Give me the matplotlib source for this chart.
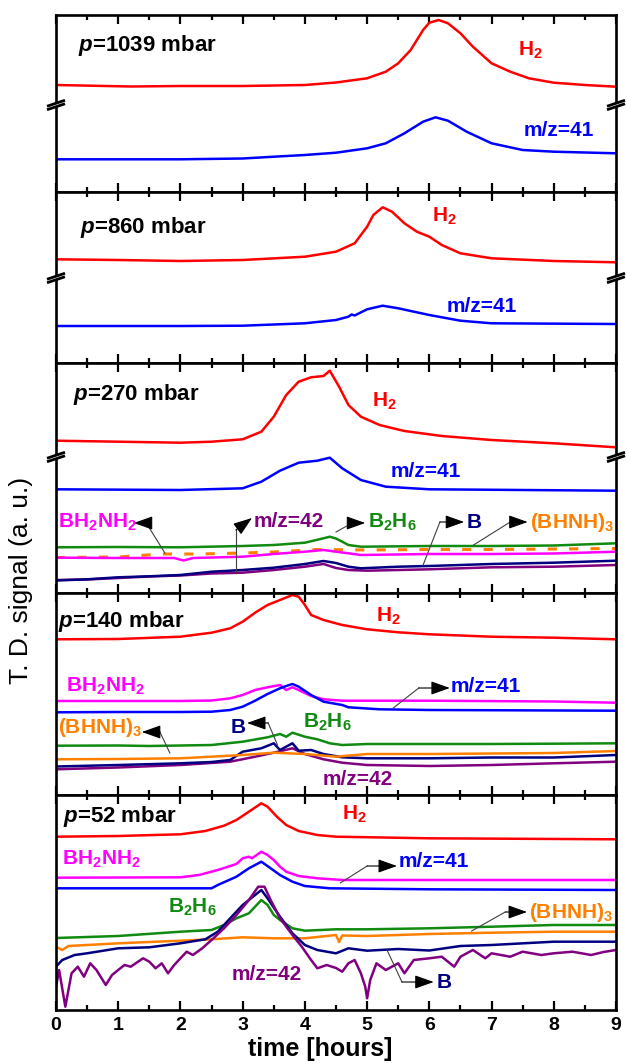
import matplotlib
matplotlib.use("Agg")
import matplotlib.pyplot as plt
from matplotlib.ticker import MultipleLocator

plt.rcParams['font.family'] = ['Liberation Sans', 'DejaVu Sans']
plt.rcParams['mathtext.fontset'] = 'custom'
plt.rcParams['mathtext.rm'] = 'Liberation Sans:bold'
plt.rcParams['mathtext.bf'] = 'Liberation Sans:bold'
plt.rcParams['mathtext.it'] = 'Liberation Sans:italic:bold'

# colours of the species
C_H2 = '#ff0000'
C_41 = '#0000ff'
C_BH2NH2 = '#ff00ff'
C_B2H6 = '#108a10'
C_BHNH = '#ff8000'
C_B = '#000080'
C_42 = '#800080'

# ---------------- data (time in hours, signal in a.u.) ----------------
# panel 1: p = 1039 mbar
p1_h2_t = [0, 1.2, 2, 3, 4, 4.5, 5, 5.3, 5.5, 5.7, 5.9, 6.0, 6.15, 6.3, 6.5, 6.7, 7.0, 7.3, 7.6, 8.0, 8.5, 9]
p1_h2_v = [107, 105.5, 106, 106, 107, 109.5, 113.7, 120.3, 128.7, 142, 162, 169.3, 172, 168.7, 158.7, 145.3, 128.7, 120.3, 113.7, 109.3, 107, 105.3]
p1_41_t = [0, 1, 2, 3, 3.5, 4, 4.5, 5.0, 5.3, 5.6, 5.9, 6.1, 6.3, 6.6, 7.0, 7.5, 8, 9]
p1_41_v = [32.7, 32.7, 32.7, 33.5, 35.3, 37, 39.3, 43.7, 48.7, 58.7, 70.3, 74.7, 71.3, 60.3, 48.7, 42, 40.3, 38.7]

# panel 2: p = 860 mbar
p2_h2_t = [0, 1, 2, 3, 4, 4.5, 4.8, 5.0, 5.1, 5.25, 5.4, 5.6, 5.8, 6.0, 6.2, 6.5, 7.0, 8, 9]
p2_h2_v = [103.7, 103, 102, 103, 106.3, 111.3, 119.7, 136.3, 148, 155.7, 151.3, 139.7, 131.3, 126.3, 118, 109.7, 104.7, 102, 100.7]
p2_41_t = [0, 2, 3, 4, 4.5, 4.7, 4.75, 4.8, 5.0, 5.25, 5.5, 6.0, 6.5, 7.0, 9]
p2_41_v = [37, 37, 37.3, 39.7, 43, 46.3, 48.5, 47.5, 53.7, 57.3, 54.7, 48, 42.3, 39.7, 39]

# panel 3: p = 270 mbar
p3_h2_t = [0, 1, 2, 2.5, 3, 3.3, 3.5, 3.7, 3.9, 4.1, 4.3, 4.4, 4.55, 4.7, 4.9, 5.2, 5.6, 6.2, 7, 8, 9]
p3_h2_v = [152.3, 151.3, 150.3, 151.3, 153.7, 161.3, 176.3, 198, 211.3, 215.7, 217, 222.3, 206.3, 188, 176.3, 168, 162, 157, 153, 149.7, 145.7]
p3_41_t = [0, 2, 3, 3.3, 3.6, 3.9, 4.2, 4.4, 4.6, 4.9, 5.3, 6, 9]
p3_41_v = [103.7, 103, 104.7, 111.3, 122.3, 130.3, 132.3, 135.3, 124.7, 113, 106.3, 103.7, 102.3]
p3_b2h6_t = [0, 1, 2, 3, 3.5, 4.0, 4.3, 4.4, 4.5, 4.6, 4.7, 4.9, 6, 7, 8, 9]
p3_b2h6_v = [45.7, 46, 45.7, 47, 48, 50.3, 54.7, 56.3, 54.5, 51.3, 48, 46.3, 47, 47, 47.5, 49.7]
p3_bh2nh2_t = [0, 1, 1.9, 2.05, 2.2, 3, 3.5, 4, 4.3, 4.5, 4.7, 4.9, 6, 7, 8, 9]
p3_bh2nh2_v = [35.3, 35, 35, 32.5, 35, 36.3, 39, 41.3, 43, 41.3, 39.7, 38, 39, 39, 39.5, 41.3]
p3_bhnh_t = [0, 1, 1.7, 2.3, 3, 3.5, 4.2, 5, 6, 7, 8, 9]
p3_bhnh_v = [35.5, 36, 39, 39, 40, 41, 43.5, 43, 43.5, 43.5, 44, 44.5]
p3_b_t = [0, 0.5, 1, 1.5, 2, 2.5, 3, 3.5, 4, 4.3, 4.5, 4.7, 4.9, 5.5, 6, 7, 8, 9]
p3_b_v = [12.5, 13.7, 15.7, 16.7, 18, 21.3, 23, 25.3, 29, 32, 30, 26.3, 24.7, 26.3, 27, 29, 30.3, 32.3]
p3_42_t = [0, 0.5, 1, 1.5, 2, 2.5, 3, 3.5, 4, 4.3, 4.5, 4.7, 5, 6, 7, 8, 9]
p3_42_v = [13, 13.5, 15, 16.5, 17.5, 19.5, 20.3, 23, 26.3, 29, 25, 23, 22.3, 23.7, 25.7, 26.3, 28]

# panel 4: p = 140 mbar
p4_h2_t = [0, 1, 2, 2.5, 2.8, 3.0, 3.2, 3.4, 3.6, 3.8, 3.9, 4.0, 4.1, 4.3, 4.6, 5.0, 5.5, 6, 7, 8, 9]
p4_h2_v = [155.7, 156, 158.3, 162.3, 166.7, 173.3, 182.3, 190, 195, 200, 198.3, 190, 180, 175, 170, 165.7, 162.7, 160.7, 158.3, 157.3, 155.7]
p4_bh2nh2_t = [0, 1, 2, 2.5, 2.8, 3.0, 3.2, 3.4, 3.6, 3.7, 3.8, 3.9, 4.1, 4.3, 4.6, 6, 8, 9]
p4_bh2nh2_v = [94, 94, 94, 94.5, 96.7, 100, 105, 107.7, 110, 105, 107.7, 105, 99, 95.7, 94.3, 94.3, 93.5, 92.3]
p4_41_t = [0, 1, 2, 2.5, 2.8, 3.0, 3.2, 3.4, 3.6, 3.7, 3.8, 3.9, 4.1, 4.3, 4.6, 4.7, 5.2, 6, 9]
p4_41_v = [82.7, 83, 83, 83.3, 85, 88.3, 94.3, 101, 106.7, 109, 111, 108.3, 100, 93.3, 90, 87.7, 85.7, 85, 84.3]
p4_b2h6_t = [0, 1, 1.5, 2, 2.5, 3.0, 3.4, 3.6, 3.7, 3.8, 4.0, 4.2, 4.4, 4.6, 5, 6, 7, 8, 9]
p4_b2h6_v = [49.3, 49.5, 49, 49.5, 50, 53.3, 57.7, 61, 58.3, 62.3, 58.3, 55.7, 51.7, 50, 51, 51, 51, 51.3, 51.7]
p4_bhnh_t = [0, 1, 2, 3, 3.5, 4, 4.5, 5, 6, 7, 8, 9]
p4_bhnh_v = [35.7, 36, 36.7, 40, 42.3, 41, 38.3, 41, 41, 41.5, 42, 44]
p4_b_t = [0, 1, 2, 2.5, 2.8, 3.0, 3.3, 3.5, 3.6, 3.8, 3.9, 4.1, 4.3, 4.6, 5, 6, 7, 8, 9]
p4_b_v = [28.5, 30, 31.7, 33, 35, 43.3, 46.7, 51.7, 45, 51.7, 44.3, 45, 41, 37.7, 36.7, 36.7, 37.5, 37.5, 40]
p4_42_t = [0, 1, 2, 2.8, 3.2, 3.5, 3.8, 4.0, 4.3, 4.6, 5, 6, 7, 8, 9]
p4_42_v = [25.7, 27.5, 30, 33.3, 38.3, 42.3, 46.7, 41, 35.7, 32.3, 30, 29, 30, 31.7, 33.3]

# panel 5: p = 52 mbar
p5_h2_t = [0, 1, 2, 2.4, 2.7, 2.9, 3.1, 3.3, 3.4, 3.55, 3.7, 3.9, 4.2, 4.5, 6, 9]
p5_h2_v = [173.3, 174, 175.7, 179, 184.3, 190, 198.3, 206.7, 203.3, 193.3, 185, 179, 175, 173.3, 171.7, 170.7]
p5_bh2nh2_t = [0, 2, 2.3, 2.6, 2.9, 3.0, 3.1, 3.15, 3.3, 3.4, 3.5, 3.6, 3.7, 3.9, 4.2, 4.6, 9]
p5_bh2nh2_v = [132.3, 132.7, 135, 140, 146, 151.7, 153.3, 151.7, 158.3, 155, 150, 143.3, 138.3, 134, 131.7, 130, 130]
p5_41_t = [0, 2.5, 2.6, 2.9, 3.1, 3.3, 3.45, 3.6, 3.8, 4.0, 4.4, 6, 9]
p5_41_v = [121.7, 121.7, 125, 133.3, 141.7, 148.3, 141.7, 135, 128.3, 124, 121.7, 120.7, 120]
p5_b2h6_t = [0, 1, 2, 2.5, 2.7, 2.9, 3.1, 3.3, 3.4, 3.5, 3.6, 3.8, 4.0, 4.5, 5, 6, 7, 8, 9]
p5_b2h6_v = [72, 74, 78.3, 80, 85, 91.7, 96.7, 110, 105, 95, 90, 81.7, 79.3, 80.7, 80.7, 81.7, 83.3, 85, 85]
p5_bhnh_t = [0, 0.1, 0.2, 0.5, 1, 2, 2.5, 3, 3.5, 4, 4.5, 4.55, 4.6, 5, 6, 7, 8, 9]
p5_bhnh_v = [63.3, 60, 64, 65, 66.7, 69.3, 70.7, 72.7, 71.7, 71.7, 75, 68, 74.5, 74, 76, 77.3, 78.3, 78.3]
p5_b_t = [0, 0.1, 0.3, 0.5, 1, 1.5, 2, 2.4, 2.6, 2.8, 3.0, 3.2, 3.3, 3.4, 3.6, 3.8, 4.0, 4.2, 4.5, 4.7, 5, 5.5, 6, 6.5, 7, 8, 9]
p5_b_v = [43.3, 50, 55, 56.7, 61.7, 62.7, 66.7, 70.7, 78.3, 91.7, 105, 115, 120, 111.7, 93.3, 76.7, 65, 60, 56.7, 61.7, 59.3, 61, 59.5, 64, 65, 68.3, 68.3]
p5_42_t = [0, 0.05, 0.15, 0.25, 0.35, 0.45, 0.55, 0.65, 0.8, 0.9, 1.0, 1.1, 1.2, 1.4, 1.5, 1.6, 1.7, 1.8, 1.9,
           2.0, 2.1, 2.2, 2.35, 2.5, 2.7, 2.9, 3.1, 3.25, 3.35, 3.45, 3.6, 3.8, 3.95, 4.1, 4.2, 4.35, 4.5,
           4.6, 4.7, 4.8, 4.9, 4.97, 5.0, 5.05, 5.15, 5.3, 5.5, 5.6, 5.75, 6.0, 6.2, 6.4, 6.5, 6.7, 6.9,
           7.0, 7.3, 7.5, 7.8, 8.0, 8.3, 8.6, 8.8, 9.0]
p5_42_v = [23.3, 40, 3.3, 36.7, 43.3, 33.3, 46.7, 40, 25, 35, 40, 45, 43.3, 51.7, 48.3, 41.7, 46.7, 36.7, 45,
           51.7, 58.3, 55, 61.7, 70, 81.7, 95, 110, 123.3, 123.3, 110, 91.7, 75, 63.3, 50, 41.7, 45, 42,
           38.3, 46.7, 50, 36.7, 23.3, 11.7, 30, 46.7, 40, 46.7, 36.7, 50, 51.7, 53.3, 43.3, 53.3, 60, 51.7,
           56.7, 53.3, 58.3, 55, 56.7, 58.3, 55, 58, 60]

# panel layout (figure pixels) and level of the axis breaks (a.u.)
W, H = 627, 1063
X0, X1 = 56, 616
panel_edges = [15, 192, 363, 593, 795, 1010]
break_levels = [87, 85, 136, None, None]

LW = 1.8
FS = 15


def draw_break(ax, level, hpx):
  # double slash across both side spines
  fy = level / hpx
  dx = 9.0 / (X1 - X0)
  dy = 3.0 / hpx
  gap = 3.5 / hpx
  for x0 in (0.0, 1.0):
    xs = [x0 - dx, x0 + dx, x0 + dx, x0 - dx]
    ys = [fy - dy - gap / 2, fy + dy - gap / 2, fy + dy + gap / 2, fy - dy + gap / 2]
    ax.fill(xs, ys, color='white', transform=ax.transAxes, clip_on=False, zorder=5)
    for s in (-gap / 2, gap / 2):
      ax.plot([x0 - dx, x0 + dx], [fy - dy + s, fy + dy + s], color='black', lw=2.0,
              transform=ax.transAxes, clip_on=False, zorder=6, solid_capstyle='butt')


def callout(ax, xs, ys):
  ax.plot(xs[:-1], ys[:-1], color='#404040', lw=0.8, zorder=4)
  ax.annotate('', xy=(xs[-1], ys[-1]), xytext=(xs[-2], ys[-2]),
              arrowprops=dict(arrowstyle='-|>,head_length=0.9,head_width=0.32', color='black',
                              lw=0.8, mutation_scale=13, shrinkA=0, shrinkB=0), zorder=4)


def label(ax, x, y, s, color, size=FS):
  ax.text(x, y, s, color=color, fontsize=size, fontweight='bold', ha='left', va='baseline', zorder=7)


fig = plt.figure(figsize=(W / 100, H / 100), dpi=100)
axes = []
for i in range(5):
  top, bot = panel_edges[i], panel_edges[i + 1]
  ax = fig.add_axes([X0 / W, 1 - bot / H, (X1 - X0) / W, (bot - top) / H])
  ax.set_xlim(0, 9)
  ax.set_ylim(0, bot - top)
  ax.set_yticks([])
  ax.xaxis.set_major_locator(MultipleLocator(1))
  ax.xaxis.set_minor_locator(MultipleLocator(0.5))
  ax.tick_params(axis='x', which='both', direction='in', top=True, bottom=True, width=1.6)
  ax.tick_params(axis='x', which='major', length=6.5, labelsize=14, pad=5)
  ax.tick_params(axis='x', which='minor', length=3.5)
  for sp in ax.spines.values():
    sp.set_linewidth(1.9)
  if i < 4:
    ax.tick_params(axis='x', labelbottom=False)
  else:
    for t in ax.get_xticklabels():
      t.set_fontweight('bold')
  if break_levels[i] is not None:
    draw_break(ax, break_levels[i], bot - top)
  axes.append(ax)

a1, a2, a3, a4, a5 = axes

# panel 1
a1.plot(p1_h2_t, p1_h2_v, color=C_H2, lw=LW)
a1.plot(p1_41_t, p1_41_v, color=C_41, lw=LW)
label(a1, 0.36, 140.5, '$p$=1039 mbar', 'black', 16)
label(a1, 7.43, 136, 'H$_2$', C_H2)
label(a1, 7.52, 56, 'm/z=41', C_41)

# panel 2
a2.plot(p2_h2_t, p2_h2_v, color=C_H2, lw=LW)
a2.plot(p2_41_t, p2_41_v, color=C_41, lw=LW)
label(a2, 0.38, 130, '$p$=860 mbar', 'black', 16)
label(a2, 6.05, 141, 'H$_2$', C_H2)
label(a2, 6.27, 51, 'm/z=41', C_41)

# panel 3
a3.plot(p3_h2_t, p3_h2_v, color=C_H2, lw=LW)
a3.plot(p3_41_t, p3_41_v, color=C_41, lw=LW)
a3.plot(p3_bhnh_t, p3_bhnh_v, color=C_BHNH, lw=2.2, ls=(0, (3, 4)))
a3.plot(p3_b2h6_t, p3_b2h6_v, color=C_B2H6, lw=LW)
a3.plot(p3_bh2nh2_t, p3_bh2nh2_v, color=C_BH2NH2, lw=LW)
a3.plot(p3_42_t, p3_42_v, color=C_42, lw=LW)
a3.plot(p3_b_t, p3_b_v, color=C_B, lw=LW)
label(a3, 0.28, 193, '$p$=270 mbar', 'black', 16)
label(a3, 5.08, 186, 'H$_2$', C_H2)
label(a3, 5.37, 116, 'm/z=41', C_41)
label(a3, 0.03, 65, 'BH$_2$NH$_2$', C_BH2NH2)
label(a3, 3.18, 66, 'm/z=42', C_42)
label(a3, 5.02, 65, 'B$_2$H$_6$', C_B2H6)
label(a3, 6.6, 65, 'B', C_B)
label(a3, 7.62, 65, '(BHNH)$_3$', C_BHNH)
callout(a3, [1.75, 1.45, 1.25], [40, 70, 70])
callout(a3, [2.89, 2.89, 3.15], [21, 63, 75])
callout(a3, [4.50, 4.76, 4.97], [61, 70, 70])
callout(a3, [5.90, 6.17, 6.56], [28, 71, 71])
callout(a3, [6.71, 7.30, 7.58], [48, 71, 71])

# panel 4
a4.plot(p4_h2_t, p4_h2_v, color=C_H2, lw=LW)
a4.plot(p4_bh2nh2_t, p4_bh2nh2_v, color=C_BH2NH2, lw=LW)
a4.plot(p4_41_t, p4_41_v, color=C_41, lw=LW)
a4.plot(p4_b2h6_t, p4_b2h6_v, color=C_B2H6, lw=LW)
a4.plot(p4_42_t, p4_42_v, color=C_42, lw=LW)
a4.plot(p4_b_t, p4_b_v, color=C_B, lw=LW)
a4.plot(p4_bhnh_t, p4_bhnh_v, color=C_BHNH, lw=LW)
label(a4, 0.04, 168, '$p$=140 mbar', 'black', 16)
label(a4, 5.14, 173, 'H$_2$', C_H2)
label(a4, 0.16, 103, 'BH$_2$NH$_2$', C_BH2NH2)
label(a4, 6.35, 103, 'm/z=41', C_41)
label(a4, 0.03, 62, '(BHNH)$_3$', C_BHNH)
label(a4, 2.8, 62, 'B', C_B)
label(a4, 3.97, 67, 'B$_2$H$_6$', C_B2H6)
label(a4, 4.28, 10, 'm/z=42', C_42)
callout(a4, [5.42, 5.83, 6.33], [87, 107, 107])
callout(a4, [1.83, 1.67, 1.38], [42, 63, 63])
callout(a4, [3.56, 3.41, 3.07], [50, 72, 72])

# panel 5
a5.plot(p5_h2_t, p5_h2_v, color=C_H2, lw=LW)
a5.plot(p5_bh2nh2_t, p5_bh2nh2_v, color=C_BH2NH2, lw=LW)
a5.plot(p5_41_t, p5_41_v, color=C_41, lw=LW)
a5.plot(p5_b2h6_t, p5_b2h6_v, color=C_B2H6, lw=LW)
a5.plot(p5_bhnh_t, p5_bhnh_v, color=C_BHNH, lw=LW)
a5.plot(p5_b_t, p5_b_v, color=C_B, lw=LW)
a5.plot(p5_42_t, p5_42_v, color=C_42, lw=LW)
label(a5, 0.12, 188, '$p$=52 mbar', 'black', 16)
label(a5, 4.6, 190, 'H$_2$', C_H2)
label(a5, 0.09, 145, 'BH$_2$NH$_2$', C_BH2NH2)
label(a5, 5.5, 143, 'm/z=41', C_41)
label(a5, 1.8, 97, 'B$_2$H$_6$', C_B2H6)
label(a5, 7.6, 92, '(BHNH)$_3$', C_BHNH)
label(a5, 2.83, 30, 'm/z=42', C_42)
label(a5, 6.12, 22, 'B', C_B)
callout(a5, [4.57, 5.0, 5.48], [127, 144, 144])
callout(a5, [6.68, 7.22, 7.57], [79, 98, 98])
callout(a5, [5.32, 5.56, 6.07], [60, 28, 28])

fig.text(21 / W, 1 - 580 / H, 'T. D. signal (a. u.)', rotation=90, fontsize=19,
         ha='center', va='center')
fig.text(320 / W, 1 - 1049 / H, 'time [hours]', fontsize=18, fontweight='bold',
         ha='center', va='center')

fig.savefig('out.png', dpi=100)
